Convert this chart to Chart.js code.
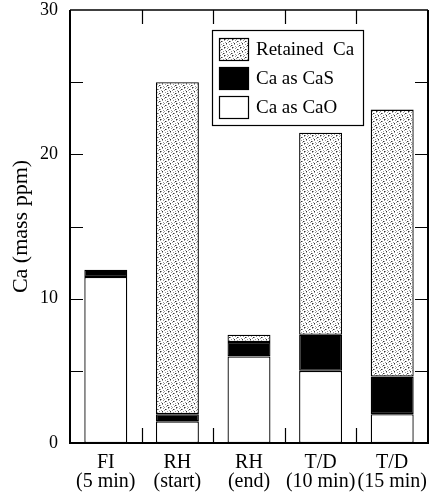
<!DOCTYPE html>
<html>
<head>
<meta charset="utf-8">
<script src="https://cdn.jsdelivr.net/npm/chart.js@4/dist/chart.umd.min.js"></script>
<style>
  html, body { margin: 0; padding: 0; background: #fff; }
  #wrap { width: 430px; height: 495px; position: relative; }
</style>
</head>
<body>
<div id="wrap"><canvas id="c" width="430" height="495"></canvas></div>
<script>
// ---- data ----
const categories = [["FI", "(5 min)"], ["RH", "(start)"], ["RH", "(end)"], ["T/D", "(10 min)"], ["T/D", "(15 min)"]];
const caAsCaO = [11.5, 1.5, 6.0, 5.0, 2.0];
const caAsCaS = [0.5, 0.5, 1.0, 2.5, 2.6];
const retainedCa = [0, 23.0, 0.5, 14.0, 18.5];
const yTicks = [0, 10, 20, 30];
const seriesNames = ["Retained  Ca", "Ca as CaS", "Ca as CaO"];

// ---- stipple pattern ----
function makePattern() {
  const t = document.createElement('canvas');
  t.width = 8; t.height = 8;
  const g = t.getContext('2d');
  g.fillStyle = '#ffffff'; g.fillRect(0, 0, 8, 8);
  const grey = [[0,0],[3,0],[6,1],[1,2],[4,2],[7,3],[2,4],[5,4],[0,5],[3,6],[6,6],[1,7],[4,7]];
  const dark = [[5,1],[2,3],[7,5],[0,7]];
  g.fillStyle = '#9a9a9a';
  grey.forEach(p => g.fillRect(p[0], p[1], 1, 1));
  g.fillStyle = '#333333';
  dark.forEach(p => g.fillRect(p[0], p[1], 1, 1));
  return document.getElementById('c').getContext('2d').createPattern(t, 'repeat');
}
const stipple = makePattern();
const fills = [stipple, '#000000', '#ffffff'];

const FONT = '"Liberation Serif", "Times New Roman", serif';

// ---- frame, inward ticks and legend ----
const framePlugin = {
  id: 'frame',
  afterDraw(chart) {
    const ctx = chart.ctx;
    const a = chart.chartArea;
    const y = chart.scales.y, x = chart.scales.x;
    ctx.save();
    ctx.strokeStyle = '#000';
    ctx.lineWidth = 1.2;
    [5, 10, 15, 20, 25].forEach(v => {
      const py = Math.round(y.getPixelForValue(v)) + 0.5;
      ctx.beginPath();
      ctx.moveTo(a.left, py); ctx.lineTo(a.left + 13, py);
      ctx.moveTo(a.right, py); ctx.lineTo(a.right - 13, py);
      ctx.stroke();
    });
    for (let i = 0; i < categories.length - 1; i++) {
      const px = Math.round((x.getPixelForValue(i) + x.getPixelForValue(i + 1)) / 2) + 0.5;
      ctx.beginPath();
      ctx.moveTo(px, a.top); ctx.lineTo(px, a.top + 14);
      ctx.moveTo(px, a.bottom); ctx.lineTo(px, a.bottom - 15);
      ctx.stroke();
    }
    ctx.lineWidth = 2;
    ctx.beginPath();
    ctx.moveTo(a.left, a.top); ctx.lineTo(a.left, a.bottom + 1);
    ctx.moveTo(a.left - 1, a.bottom); ctx.lineTo(a.right + 1, a.bottom);
    ctx.moveTo(a.right, a.bottom); ctx.lineTo(a.right, a.top);
    ctx.stroke();
    ctx.lineWidth = 1.5;
    ctx.beginPath();
    ctx.moveTo(a.left, a.top); ctx.lineTo(a.right, a.top);
    ctx.stroke();

    // legend
    const lx = 212, ly = 30, lw = 151, lh = 95;
    ctx.fillStyle = '#fff';
    ctx.fillRect(lx, ly, lw, lh);
    ctx.lineWidth = 1.2;
    ctx.strokeRect(lx + 0.5, ly + 0.5, lw, lh);
    ctx.font = '19px ' + FONT;
    ctx.textBaseline = 'middle';
    ctx.textAlign = 'left';
    seriesNames.forEach((name, i) => {
      const cy = 49 + i * 29;
      ctx.fillStyle = fills[i];
      ctx.fillRect(219, cy - 11, 29, 22);
      ctx.strokeStyle = '#000';
      ctx.lineWidth = 1.2;
      ctx.strokeRect(219.5, cy - 10.5, 29, 22);
      ctx.fillStyle = '#000';
      ctx.fillText(name, 256, cy + 1);
    });
    ctx.restore();
  }
};

const ds = (label, data, fill) => ({
  label, data,
  backgroundColor: fill,
  borderColor: '#000',
  borderWidth: 1.3,
  borderSkipped: false,
  barPercentage: 0.6,
  categoryPercentage: 1.0,
  stack: 's'
});

new Chart(document.getElementById('c'), {
  type: 'bar',
  data: {
    labels: categories,
    datasets: [
      ds(seriesNames[2], caAsCaO, fills[2]),
      ds(seriesNames[1], caAsCaS, fills[1]),
      ds(seriesNames[0], retainedCa, fills[0])
    ]
  },
  options: {
    responsive: false,
    animation: false,
    devicePixelRatio: 1,
    layout: { padding: { left: 8, right: 2, top: 10, bottom: 0 } },
    plugins: { legend: { display: false }, tooltip: { enabled: false } },
    scales: {
      x: {
        stacked: true,
        grid: { display: false, drawTicks: false },
        border: { display: false },
        ticks: { color: '#000', font: { family: FONT, size: 20, lineHeight: 0.95 }, padding: 10, maxRotation: 0, autoSkip: false },
        afterFit: s => { s.height = 52; s.paddingLeft = 0; s.paddingRight = 0; }
      },
      y: {
        stacked: true,
        min: 0, max: 30,
        afterBuildTicks: s => { s.ticks = yTicks.map(v => ({ value: v })); },
        grid: { display: false, drawTicks: false },
        border: { display: false },
        ticks: { color: '#000', font: { family: FONT, size: 18 }, padding: 12 },
        title: { display: true, text: 'Ca (mass ppm)', color: '#000', font: { family: FONT, size: 22 }, padding: 0 },
        afterFit: s => { s.width = 62; s.paddingTop = 0; s.paddingBottom = 0; }
      }
    }
  },
  plugins: [framePlugin]
});
</script>
</body>
</html>
